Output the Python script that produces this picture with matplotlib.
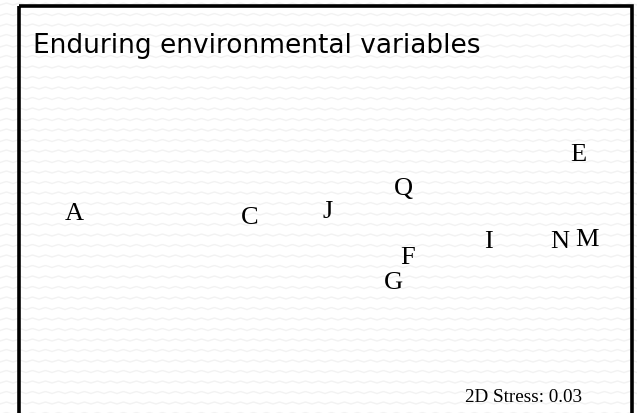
import numpy as np
import matplotlib.pyplot as plt
from matplotlib.patches import Rectangle

# MDS ordination of sites (plot units, y grows downward)
sites = ['A', 'C', 'J', 'Q', 'E', 'I', 'N', 'M', 'F', 'G']
site_x = [74, 250, 328, 403, 578, 488, 560, 587, 408, 393]
site_y = [214, 218, 212, 189, 155, 242, 242, 240, 258, 283]

title = 'Enduring environmental variables'
stress = 0.03

W, H = 637, 413

fig = plt.figure(figsize=(W / 100, H / 100), dpi=100)
ax = fig.add_axes([0, 0, 1, 1])
ax.set_xlim(0, W)
ax.set_ylim(H, 0)
ax.axis('off')

# faint zigzag paper texture
xs = np.arange(0, W + 14, 1.0)
wave = 2.0 * np.abs(((xs / 6.5) % 2) - 1)
for row in np.arange(3, H + 10, 10.5):
    ax.plot(xs, row + wave, color='#f2f2f2', lw=1.0, zorder=0)

# slide frame (open at the bottom)
ax.add_patch(Rectangle((19, 6), 613, 420, fill=False, ec='black', lw=2.6,
                       zorder=1, clip_on=False))

ax.text(33, 46, title, fontsize=19, family='DejaVu Sans', va='center',
        ha='left', color='black')

for lab, x, y in zip(sites, site_x, site_y):
    ax.text(x, y, lab, fontsize=19, family='Liberation Serif',
            ha='center', va='center', color='black', zorder=2)

ax.text(582, 397, f'2D Stress: {stress:.2f}', fontsize=13.8,
        family='Liberation Serif', ha='right', va='center', color='black')

fig.savefig('out.png', dpi=100)
